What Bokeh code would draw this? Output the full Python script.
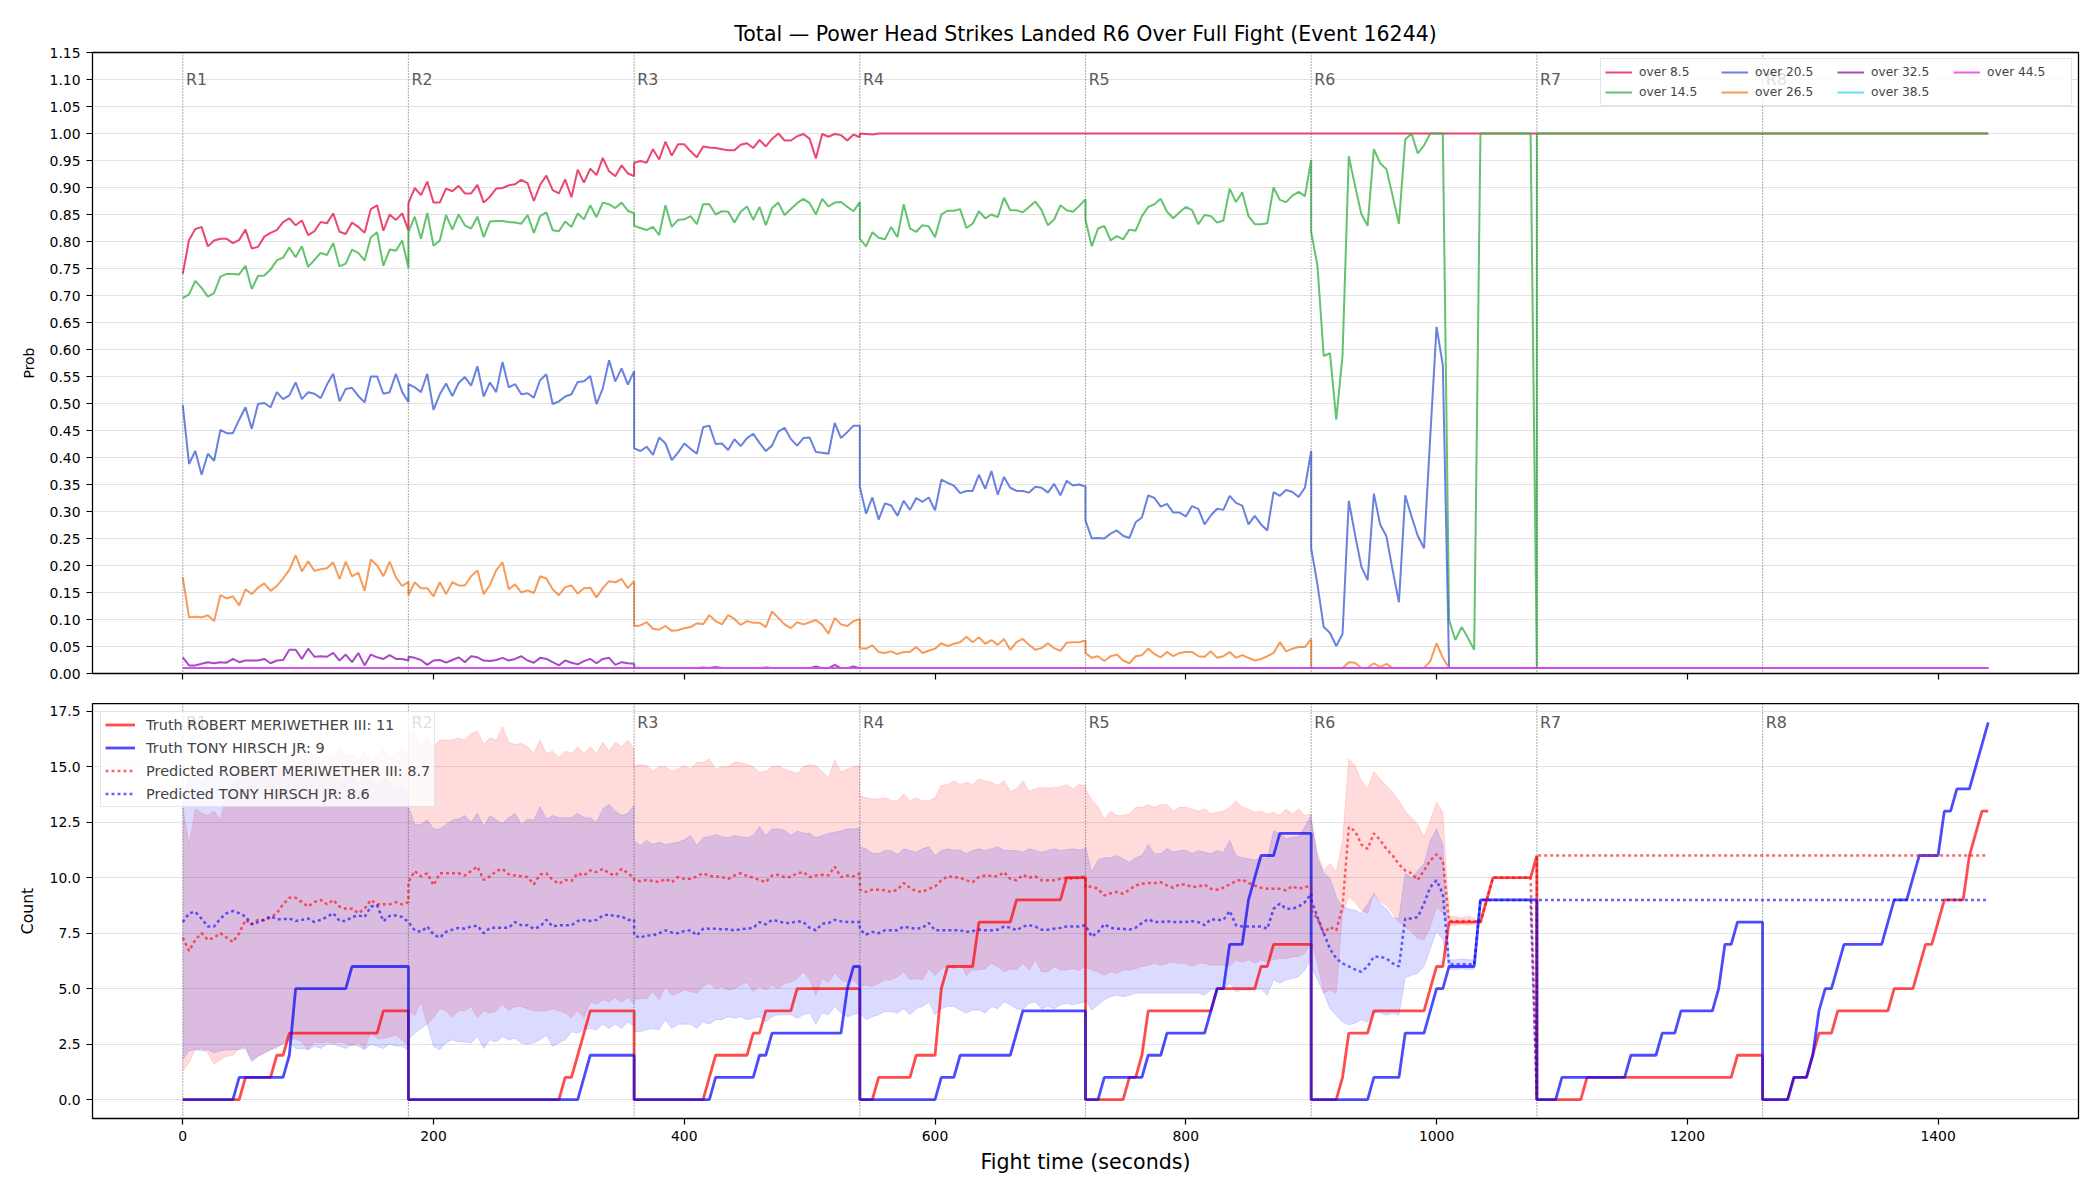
import numpy as np
from bokeh.plotting import figure
from bokeh.layouts import column
from bokeh.models import Range1d, FixedTicker, PrintfTickFormatter, Span, Label
from bokeh.embed import file_html
from bokeh.resources import INLINE

STEP = 5
ROUND_STARTS = [0, 180, 360, 540, 720, 900, 1080, 1260]
ROUND_NAMES = ["R1", "R2", "R3", "R4", "R5", "R6", "R7", "R8"]
X_TICKS = [0, 200, 400, 600, 800, 1000, 1200, 1400]
FONT = "DejaVu Sans"

# ---------------- top panel: P(R6 total over line), one list per round, every 5 s ----------------
OVER_8_5 = [
    [0.740, 0.803, 0.823, 0.827, 0.791, 0.802, 0.805, 0.805, 0.797, 0.803, 0.822, 0.787, 0.790, 0.809, 0.816, 0.821, 0.836, 0.843, 0.830, 0.839, 0.812, 0.819, 0.836, 0.834, 0.852, 0.818, 0.814, 0.835, 0.827, 0.816, 0.860, 0.867, 0.820, 0.850, 0.840, 0.852, 0.820],
    [0.871, 0.899, 0.886, 0.911, 0.872, 0.872, 0.898, 0.893, 0.903, 0.889, 0.889, 0.905, 0.872, 0.883, 0.898, 0.899, 0.904, 0.906, 0.914, 0.908, 0.875, 0.905, 0.922, 0.895, 0.889, 0.915, 0.882, 0.933, 0.909, 0.935, 0.923, 0.955, 0.930, 0.921, 0.941, 0.926, 0.921],
    [0.946, 0.949, 0.946, 0.971, 0.952, 0.985, 0.959, 0.980, 0.980, 0.967, 0.956, 0.976, 0.974, 0.973, 0.971, 0.969, 0.969, 0.979, 0.982, 0.973, 0.988, 0.976, 0.990, 1.000, 0.987, 0.987, 0.995, 0.999, 0.990, 0.954, 0.999, 0.994, 0.999, 0.997, 0.987, 0.998, 0.993],
    [1.0, 0.999, 0.998] + [1.0] * 34,
    [1.0] * 37,
    [1.0] * 37,
    [1.0] * 37,
    [1.0] * 37,
]
OVER_14_5 = [
    [0.695, 0.702, 0.727, 0.714, 0.698, 0.705, 0.735, 0.740, 0.740, 0.739, 0.755, 0.712, 0.736, 0.737, 0.748, 0.765, 0.770, 0.789, 0.771, 0.791, 0.753, 0.766, 0.779, 0.775, 0.797, 0.754, 0.759, 0.785, 0.779, 0.765, 0.808, 0.817, 0.755, 0.785, 0.783, 0.802, 0.751],
    [0.818, 0.846, 0.805, 0.853, 0.792, 0.802, 0.849, 0.822, 0.850, 0.830, 0.824, 0.846, 0.808, 0.837, 0.838, 0.838, 0.836, 0.835, 0.833, 0.849, 0.816, 0.847, 0.854, 0.821, 0.819, 0.837, 0.827, 0.852, 0.841, 0.867, 0.845, 0.872, 0.869, 0.862, 0.872, 0.857, 0.852],
    [0.829, 0.825, 0.821, 0.827, 0.812, 0.867, 0.827, 0.840, 0.841, 0.847, 0.832, 0.869, 0.869, 0.850, 0.856, 0.855, 0.835, 0.855, 0.865, 0.840, 0.864, 0.830, 0.862, 0.872, 0.849, 0.860, 0.871, 0.879, 0.871, 0.850, 0.879, 0.865, 0.872, 0.873, 0.864, 0.856, 0.873],
    [0.805, 0.791, 0.817, 0.807, 0.804, 0.827, 0.808, 0.869, 0.824, 0.818, 0.830, 0.828, 0.808, 0.850, 0.857, 0.857, 0.860, 0.825, 0.833, 0.856, 0.843, 0.850, 0.845, 0.881, 0.858, 0.858, 0.854, 0.864, 0.874, 0.858, 0.830, 0.841, 0.867, 0.858, 0.855, 0.866, 0.878],
    [0.840, 0.791, 0.824, 0.829, 0.802, 0.810, 0.804, 0.822, 0.820, 0.847, 0.864, 0.869, 0.879, 0.855, 0.843, 0.854, 0.864, 0.858, 0.832, 0.849, 0.847, 0.835, 0.839, 0.898, 0.873, 0.891, 0.847, 0.832, 0.832, 0.834, 0.900, 0.877, 0.873, 0.885, 0.892, 0.884, 0.951],
    [0.818, 0.755, 0.588, 0.593, 0.470, 0.589, 0.958, 0.903, 0.851, 0.829, 0.971, 0.945, 0.934, 0.884, 0.833, 0.989, 1.000, 0.963, 0.978, 1.000, 1.000, 1.000, 0.099, 0.062, 0.086, 0.066, 0.044, 1.000, 1.000, 1.000, 1.000, 1.000, 1.000, 1.000, 1.000, 1.000, 0.010],
    [1.0] * 37,
    [1.0] * 37,
]
OVER_20_5 = [
    [0.497, 0.388, 0.412, 0.368, 0.407, 0.394, 0.451, 0.445, 0.445, 0.470, 0.493, 0.453, 0.499, 0.501, 0.493, 0.521, 0.508, 0.515, 0.539, 0.508, 0.521, 0.518, 0.510, 0.535, 0.555, 0.504, 0.527, 0.529, 0.514, 0.502, 0.550, 0.550, 0.518, 0.521, 0.555, 0.521, 0.503],
    [0.536, 0.530, 0.521, 0.555, 0.488, 0.517, 0.537, 0.514, 0.538, 0.549, 0.533, 0.569, 0.513, 0.539, 0.521, 0.577, 0.530, 0.536, 0.517, 0.519, 0.511, 0.543, 0.554, 0.499, 0.504, 0.513, 0.517, 0.540, 0.541, 0.551, 0.499, 0.528, 0.580, 0.541, 0.565, 0.535, 0.560],
    [0.417, 0.412, 0.420, 0.405, 0.437, 0.426, 0.395, 0.409, 0.426, 0.416, 0.407, 0.456, 0.459, 0.425, 0.426, 0.414, 0.434, 0.421, 0.436, 0.444, 0.427, 0.412, 0.422, 0.448, 0.455, 0.434, 0.422, 0.436, 0.437, 0.410, 0.409, 0.407, 0.464, 0.436, 0.447, 0.459, 0.459],
    [0.346, 0.296, 0.326, 0.285, 0.315, 0.311, 0.292, 0.320, 0.303, 0.325, 0.318, 0.326, 0.302, 0.359, 0.353, 0.348, 0.334, 0.338, 0.338, 0.368, 0.342, 0.375, 0.331, 0.364, 0.344, 0.338, 0.338, 0.335, 0.346, 0.344, 0.335, 0.351, 0.330, 0.357, 0.348, 0.350, 0.346],
    [0.283, 0.250, 0.251, 0.250, 0.259, 0.265, 0.255, 0.251, 0.280, 0.289, 0.330, 0.325, 0.309, 0.314, 0.298, 0.298, 0.291, 0.310, 0.305, 0.276, 0.293, 0.305, 0.303, 0.329, 0.316, 0.311, 0.276, 0.292, 0.276, 0.265, 0.336, 0.329, 0.340, 0.336, 0.327, 0.344, 0.412],
    [0.232, 0.165, 0.086, 0.075, 0.051, 0.073, 0.320, 0.257, 0.198, 0.173, 0.333, 0.276, 0.254, 0.191, 0.132, 0.330, 0.291, 0.255, 0.232, 0.440, 0.642, 0.571] + [0.010] * 15,
    [0.010] * 37,
    [0.010] * 37,
]
OVER_26_5 = [
    [0.178, 0.104, 0.105, 0.104, 0.108, 0.097, 0.145, 0.139, 0.143, 0.126, 0.156, 0.147, 0.159, 0.167, 0.153, 0.162, 0.176, 0.192, 0.219, 0.189, 0.208, 0.190, 0.193, 0.195, 0.206, 0.175, 0.207, 0.180, 0.187, 0.153, 0.211, 0.200, 0.180, 0.207, 0.178, 0.162, 0.170],
    [0.145, 0.169, 0.158, 0.158, 0.143, 0.169, 0.147, 0.169, 0.163, 0.163, 0.180, 0.191, 0.147, 0.164, 0.191, 0.206, 0.156, 0.165, 0.150, 0.154, 0.149, 0.180, 0.176, 0.156, 0.145, 0.160, 0.163, 0.148, 0.158, 0.159, 0.141, 0.158, 0.171, 0.169, 0.175, 0.158, 0.171],
    [0.088, 0.089, 0.095, 0.083, 0.081, 0.088, 0.079, 0.080, 0.084, 0.086, 0.093, 0.091, 0.108, 0.097, 0.091, 0.108, 0.101, 0.090, 0.097, 0.094, 0.094, 0.086, 0.115, 0.103, 0.091, 0.084, 0.095, 0.091, 0.095, 0.099, 0.090, 0.074, 0.103, 0.091, 0.088, 0.097, 0.101],
    [0.047, 0.046, 0.052, 0.040, 0.038, 0.041, 0.036, 0.040, 0.040, 0.049, 0.038, 0.042, 0.046, 0.056, 0.051, 0.055, 0.058, 0.068, 0.058, 0.067, 0.055, 0.062, 0.053, 0.064, 0.044, 0.058, 0.064, 0.053, 0.044, 0.047, 0.056, 0.047, 0.042, 0.057, 0.058, 0.058, 0.061],
    [0.038, 0.029, 0.032, 0.023, 0.032, 0.035, 0.024, 0.019, 0.032, 0.034, 0.046, 0.036, 0.030, 0.040, 0.032, 0.038, 0.040, 0.040, 0.032, 0.031, 0.041, 0.029, 0.032, 0.040, 0.029, 0.034, 0.029, 0.024, 0.027, 0.032, 0.038, 0.058, 0.041, 0.046, 0.049, 0.049, 0.064],
    [0.010, 0.010, 0.010, 0.010, 0.010, 0.010, 0.021, 0.020, 0.010, 0.010, 0.019, 0.012, 0.018, 0.010, 0.010, 0.010, 0.010, 0.010, 0.010, 0.023, 0.056, 0.029] + [0.010] * 15,
    [0.010] * 37,
    [0.010] * 37,
]
OVER_32_5 = [
    [0.030, 0.015, 0.015, 0.018, 0.021, 0.019, 0.021, 0.020, 0.027, 0.021, 0.024, 0.024, 0.024, 0.027, 0.019, 0.024, 0.025, 0.044, 0.044, 0.027, 0.046, 0.031, 0.032, 0.031, 0.038, 0.024, 0.035, 0.021, 0.038, 0.015, 0.035, 0.030, 0.027, 0.034, 0.027, 0.027, 0.024],
    [0.031, 0.029, 0.025, 0.016, 0.024, 0.025, 0.020, 0.025, 0.030, 0.021, 0.032, 0.030, 0.024, 0.023, 0.025, 0.029, 0.024, 0.027, 0.032, 0.024, 0.020, 0.029, 0.027, 0.021, 0.015, 0.024, 0.020, 0.017, 0.023, 0.027, 0.019, 0.027, 0.029, 0.016, 0.021, 0.019, 0.018],
    [0.011, 0.010, 0.010, 0.010, 0.010, 0.010, 0.010, 0.010, 0.010, 0.010, 0.010, 0.011, 0.010, 0.012, 0.010, 0.010, 0.010, 0.010, 0.010, 0.010, 0.010, 0.011, 0.010, 0.010, 0.010, 0.010, 0.010, 0.010, 0.010, 0.013, 0.010, 0.010, 0.016, 0.010, 0.010, 0.013, 0.010],
    [0.010] * 37,
    [0.010] * 37,
    [0.010] * 37,
    [0.010] * 37,
    [0.010] * 37,
]
OVER_38_5 = [[0.010] * 37 for _ in ROUND_STARTS]
OVER_44_5 = [[0.010] * 37 for _ in ROUND_STARTS]

TOP_SERIES = [
    ("over 8.5", OVER_8_5, "#e6194b"),
    ("over 14.5", OVER_14_5, "#3cb44b"),
    ("over 20.5", OVER_20_5, "#4363d8"),
    ("over 26.5", OVER_26_5, "#f58231"),
    ("over 32.5", OVER_32_5, "#911eb4"),
    ("over 38.5", OVER_38_5, "#42d4f4"),
    ("over 44.5", OVER_44_5, "#f032e6"),
]

# ---------------- bottom panel: per-round counts, every 5 s ----------------
TRUTH_RED = [
    [0] * 10 + [1] * 5 + [2, 2] + [3] * 15 + [4] * 5,
    [0] * 25 + [1, 1, 2, 3] + [4] * 8,
    [0] * 12 + [1] + [2] * 6 + [3, 3] + [4] * 5 + [5] * 11,
    [0, 0, 0] + [1] * 6 + [2] * 4 + [5] + [6] * 5 + [8] * 6 + [9] * 8 + [10] * 4,
    [0] * 7 + [1, 1, 2] + [4] * 11 + [5] * 7 + [6, 6] + [7] * 7,
    [0] * 5 + [1] + [3] * 4 + [4] * 9 + [5] + [6, 6] + [8] * 6 + [9] + [10] * 7 + [11],
    [0] * 8 + [1] * 24 + [2] * 5,
    [0] * 5 + [1, 1, 1] + [2] + [3, 3, 3] + [4] * 9 + [5] * 4 + [6] + [7, 7] + [8] + [9] * 4 + [11] + [12] + [13, 13],
]
TRUTH_BLUE = [
    [0] * 9 + [1] * 8 + [2] + [5] * 9 + [6] * 10,
    [0] * 28 + [1] + [2] * 8,
    [0] * 13 + [1] * 7 + [2, 2] + [3] * 12 + [5] + [6, 6],
    [0] * 13 + [1] * 3 + [2] * 9 + [3] + [4] * 11,
    [0] * 3 + [1] * 7 + [2] * 3 + [3] * 7 + [4] + [5, 5] + [7] * 3 + [9] + [10] + [11] * 3 + [12] * 6,
    [0] * 10 + [1] * 5 + [3] * 4 + [4] + [5, 5] + [6] * 5 + [9] * 10,
    [0] * 4 + [1] * 11 + [2] * 5 + [3] * 3 + [4] * 6 + [5] + [7, 7] + [8] * 5,
    [0] * 5 + [1] * 3 + [2] + [4] + [5, 5] + [6] + [7] * 7 + [8] + [9] * 3 + [10] + [11] * 4 + [13, 13] + [14] * 3 + [15] + [16] + [17],
]
PRED_RED = [
    [7.3, 6.7, 7.2, 7.5, 7.2, 7.3, 7.5, 7.3, 7.1, 7.5, 8.1, 7.9, 8.1, 8.1, 8.2, 8.4, 8.8, 9.1, 9.1, 8.9, 8.7, 8.9, 9.0, 8.8, 9.0, 8.7, 8.6, 8.6, 8.4, 8.6, 9.0, 8.8, 8.8, 8.8, 8.9, 8.8, 8.9],
    [9.8, 10.3, 10.06, 10.2, 9.66, 10.2, 10.2, 10.2, 10.2, 10.1, 10.3, 10.5, 9.9, 10.06, 10.3, 10.4, 10.15, 10.1, 10.07, 10.03, 9.7, 10.15, 10.2, 9.9, 9.73, 9.9, 9.85, 10.2, 10.1, 10.33, 10.25, 10.4, 10.2, 10.1, 10.4, 10.2, 10.0],
    [9.9, 9.84, 9.9, 9.85, 9.8, 9.95, 9.8, 10.03, 9.95, 9.95, 10.06, 10.2, 10.08, 10.06, 10.03, 9.95, 10.1, 10.2, 10.08, 10.0, 9.9, 9.8, 10.1, 10.13, 10.03, 10.03, 10.2, 10.25, 10.03, 10.1, 10.13, 10.1, 10.5, 10.03, 10.1, 10.06, 10.2],
    [9.46, 9.36, 9.46, 9.46, 9.43, 9.36, 9.46, 9.76, 9.54, 9.39, 9.36, 9.5, 9.6, 9.88, 10.06, 10.03, 10.0, 9.88, 9.8, 10.03, 10.1, 10.08, 10.06, 10.25, 9.95, 9.88, 10.13, 10.0, 10.06, 9.88, 9.88, 9.88, 9.95, 10.0, 9.95, 10.0, 10.06],
    [9.58, 9.6, 9.5, 9.2, 9.3, 9.36, 9.28, 9.46, 9.65, 9.73, 9.76, 9.76, 9.8, 9.65, 9.55, 9.7, 9.69, 9.58, 9.6, 9.69, 9.5, 9.46, 9.55, 9.7, 9.85, 9.92, 9.76, 9.65, 9.55, 9.5, 9.5, 9.5, 9.43, 9.62, 9.5, 9.58, 9.62],
    [8.53, 8.16, 7.5, 7.78, 7.63, 8.68, 12.28, 12.1, 11.5, 11.3, 12.0, 11.7, 11.3, 11.0, 10.6, 10.33, 10.2, 9.9, 10.33, 10.78, 11.05, 10.78, 8.05, 8.05, 8.05, 8.05, 8.05, 8, 9, 10, 10, 10, 10, 10, 10, 10, 0],
    [11] * 37,
    [11] * 37,
]
PRED_BLUE = [
    [8.0, 8.4, 8.46, 8.16, 7.8, 7.8, 8.16, 8.4, 8.5, 8.4, 8.26, 7.9, 8.0, 8.1, 8.26, 8.13, 8.13, 8.16, 8.05, 8.1, 8.16, 8.0, 8.1, 8.23, 8.4, 8.05, 8.05, 8.23, 8.3, 8.23, 8.7, 8.76, 8.04, 8.28, 8.3, 8.23, 8.0],
    [8.0, 7.63, 7.56, 7.8, 7.44, 7.3, 7.56, 7.66, 7.74, 7.7, 7.8, 7.84, 7.5, 7.74, 7.74, 7.74, 7.74, 8.0, 7.86, 7.86, 7.7, 7.8, 8.1, 7.8, 7.86, 7.86, 7.86, 8.05, 8.1, 8.05, 8.1, 8.3, 8.34, 8.26, 8.26, 8.1, 8.1],
    [7.4, 7.3, 7.4, 7.4, 7.5, 7.63, 7.53, 7.5, 7.6, 7.63, 7.4, 7.7, 7.7, 7.7, 7.68, 7.68, 7.63, 7.68, 7.7, 7.74, 8.0, 7.9, 8.1, 8.04, 7.96, 7.96, 8.04, 8.0, 7.74, 7.63, 7.93, 7.96, 8.1, 8.04, 8.0, 8.0, 8.0],
    [7.66, 7.44, 7.56, 7.5, 7.63, 7.63, 7.63, 7.8, 7.74, 7.7, 7.74, 7.96, 7.63, 7.63, 7.63, 7.63, 7.63, 7.56, 7.6, 7.66, 7.63, 7.63, 7.66, 7.8, 7.75, 7.63, 7.8, 7.86, 7.8, 7.66, 7.66, 7.7, 7.74, 7.8, 7.8, 7.8, 7.86],
    [7.86, 7.34, 7.56, 7.9, 7.74, 7.7, 7.7, 7.66, 7.75, 7.96, 8.13, 8.0, 8.0, 8.04, 8.0, 8.0, 8.0, 8.04, 8.0, 7.86, 8.13, 8.1, 8.1, 8.5, 7.86, 7.8, 7.8, 7.8, 7.8, 7.7, 8.6, 8.83, 8.6, 8.6, 8.7, 8.9, 9.28],
    [9.0, 8.23, 7.5, 6.8, 6.36, 6.14, 6.0, 5.87, 5.76, 6.0, 6.44, 6.44, 6.36, 6.14, 6.0, 8.16, 8.16, 8.23, 8.83, 9.58, 9.88, 9.28, 6.1, 6.1, 6.1, 6.1, 6.1, 9, 9, 9, 9, 9, 9, 9, 9, 9, 0],
    [9] * 37,
    [9] * 37,
]
# prediction intervals (rounds R1..R6; they close up partway through R6)
RED_HI = [
    [13.2, 11.5, 13.1, 12.9, 12.8, 13.0, 12.6, 13.8, 14.2, 14.5, 14.8, 15.0, 14.7, 15.2, 15.5, 15.3, 15.0, 15.6, 15.8, 15.4, 15.7, 15.5, 15.2, 15.6, 15.4, 15.8, 15.5, 15.6, 15.3, 15.7, 15.2, 15.5, 15.8, 15.4, 15.6, 15.9, 15.5],
    [16.5, 16.5, 16.0, 16.4, 15.9, 16.2, 16.2, 16.2, 16.3, 16.2, 16.5, 16.6, 16.0, 16.3, 16.2, 16.8, 16.1, 16.0, 16.05, 15.9, 15.6, 16.2, 15.6, 15.7, 15.4, 15.7, 15.6, 15.9, 15.6, 15.9, 15.6, 16.1, 15.7, 16.1, 15.9, 16.2, 15.8],
    [15.05, 15.1, 15.05, 14.8, 15.0, 15.0, 14.8, 14.9, 15.05, 14.9, 15.2, 15.2, 15.35, 14.9, 15.0, 15.0, 15.2, 15.2, 15.1, 15.0, 14.75, 14.8, 15.0, 15.05, 14.9, 14.8, 14.7, 15.0, 15.1, 15.05, 14.8, 14.5, 15.3, 14.75, 14.9, 15.0, 15.05],
    [13.7, 13.6, 13.55, 13.55, 13.6, 13.47, 13.47, 13.77, 13.47, 13.6, 13.47, 13.47, 13.6, 14.15, 14.2, 14.37, 14.2, 14.3, 14.2, 14.45, 14.37, 14.3, 14.15, 14.37, 13.9, 14.0, 14.37, 13.9, 14.0, 14.07, 14.04, 14.07, 14.1, 14.2, 14.0, 14.2, 14.15],
    [14.0, 13.5, 13.2, 12.65, 13.0, 12.8, 12.8, 12.87, 13.17, 13.17, 13.3, 13.17, 13.3, 13.3, 13.0, 13.17, 13.17, 13.1, 13.0, 13.1, 12.87, 12.95, 13.0, 13.17, 13.47, 13.17, 13.1, 12.95, 13.0, 12.87, 12.95, 12.8, 13.1, 12.87, 13.1, 12.8, 12.87],
    [12.6, 11.08, 10.33, 10.63, 10.25, 11.68, 15.35, 15.05, 14.37, 14.0, 14.8, 14.45, 14.15, 13.85, 13.47, 13.0, 12.7, 12.4, 11.83, 12.6, 13.4, 12.95, 8.25, 8.25, 8.2, 8.25, 8.2],
]
RED_LO = [
    [1.3, 1.65, 2.25, 2.3, 2.1, 1.6, 1.8, 1.95, 2.0, 2.3, 2.4, 1.8, 1.95, 2.1, 2.25, 2.3, 2.55, 2.7, 2.75, 2.6, 2.25, 2.6, 2.55, 2.6, 2.55, 2.6, 2.55, 2.4, 2.6, 2.3, 3.05, 2.75, 2.75, 2.85, 2.9, 2.7, 2.4],
    [4.0, 3.8, 4.4, 3.4, 3.7, 4.1, 4.0, 3.7, 4.0, 4.0, 4.2, 3.7, 4.0, 3.9, 4.0, 4.3, 4.0, 4.2, 4.2, 4.1, 4.0, 4.0, 4.0, 4.1, 4.0, 3.9, 3.7, 4.0, 3.7, 4.4, 4.3, 4.5, 4.4, 4.6, 4.4, 4.6, 4.3],
    [4.5, 4.56, 4.56, 4.87, 4.5, 5.1, 4.7, 4.8, 4.94, 4.87, 4.8, 5.1, 5.24, 5.0, 5.1, 4.94, 5.0, 5.16, 5.3, 4.87, 5.1, 4.94, 5.16, 5.0, 5.24, 5.3, 5.46, 5.76, 5.4, 4.7, 5.46, 5.3, 5.7, 5.4, 5.3, 5.4, 5.1],
    [5.1, 5.16, 5.1, 5.24, 5.4, 5.4, 5.54, 5.76, 5.4, 5.46, 5.4, 5.9, 5.6, 5.9, 6.0, 5.9, 6.14, 5.6, 5.84, 5.84, 5.9, 6.14, 6.0, 5.76, 5.9, 5.84, 6.14, 5.84, 6.3, 5.76, 5.76, 6.0, 5.84, 5.84, 5.9, 5.84, 6.0],
    [6.0, 5.84, 5.76, 5.6, 5.76, 5.7, 5.84, 5.84, 5.9, 6.0, 6.06, 6.14, 6.06, 6.14, 6.2, 6.14, 6.14, 6.0, 6.14, 6.14, 6.06, 6.06, 6.06, 6.0, 6.3, 6.2, 6.3, 6.14, 6.3, 6.2, 6.3, 6.36, 6.36, 6.44, 6.44, 6.6, 7.1],
    [7.2, 6.14, 4.8, 4.94, 4.8, 8.4, 9.13, 8.9, 8.53, 8.4, 9.28, 8.9, 8.76, 8.4, 8.0, 7.78, 7.56, 7.26, 7.2, 7.78, 8.68, 8.4, 7.85, 7.85, 7.9, 7.85, 7.9],
]
BLUE_HI = [
    [13.5, 14.6, 14.8, 14.3, 14.8, 14.5, 14.9, 14.6, 14.4, 14.8, 14.7, 14.5, 14.9, 15.0, 14.7, 14.6, 14.9, 14.8, 14.5, 14.7, 14.9, 14.6, 14.4, 14.8, 14.5, 14.3, 14.6, 14.5, 14.2, 14.6, 14.4, 14.1, 14.5, 14.3, 14.0, 14.2, 13.8],
    [13.2, 12.4, 12.4, 12.6, 12.2, 12.2, 12.4, 12.6, 12.65, 12.8, 12.5, 12.9, 12.3, 12.8, 12.6, 12.45, 12.7, 12.9, 12.4, 12.65, 12.6, 13.2, 12.65, 12.8, 12.7, 12.7, 12.7, 12.9, 12.7, 12.7, 12.5, 13.1, 13.3, 13.0, 12.8, 12.9, 13.25],
    [11.68, 11.45, 11.68, 11.5, 11.6, 11.5, 11.55, 11.6, 11.7, 11.9, 11.45, 11.8, 11.85, 11.95, 11.85, 11.8, 11.9, 11.85, 11.8, 11.9, 12.3, 11.9, 12.2, 12.2, 12.15, 11.9, 12.1, 12.0, 12.0, 11.8, 11.9, 12.0, 12.05, 12.1, 12.2, 12.2, 12.25],
    [11.4, 11.3, 11.1, 11.08, 11.23, 11.23, 11.05, 11.3, 11.23, 11.15, 11.3, 11.4, 11.0, 11.23, 11.3, 11.23, 11.26, 11.08, 11.23, 11.3, 11.23, 11.3, 11.4, 11.23, 11.23, 11.23, 11.15, 11.3, 11.23, 11.15, 11.23, 11.3, 11.23, 11.26, 11.3, 11.26, 11.3],
    [11.4, 10.25, 10.8, 10.9, 10.9, 11.0, 10.85, 10.7, 10.9, 11.0, 11.5, 11.08, 11.08, 11.3, 11.15, 11.23, 11.23, 11.08, 11.23, 11.15, 11.08, 11.23, 11.15, 11.68, 11.0, 10.9, 10.85, 10.8, 10.9, 10.85, 12.1, 12.0, 11.75, 11.83, 11.83, 12.3, 12.8],
    [12.7, 10.9, 10.2, 10.0, 9.13, 8.68, 8.6, 8.53, 8.4, 8.83, 9.28, 8.83, 8.6, 8.2, 8.16, 10.2, 10.0, 10.33, 10.63, 11.68, 12.2, 11.5, 6.3, 6.3, 6.35, 6.3, 6.3],
]
BLUE_LO = [
    [1.8, 2.2, 2.25, 2.2, 2.25, 2.1, 2.2, 2.25, 2.25, 2.25, 2.3, 1.7, 1.95, 2.1, 2.25, 2.4, 2.5, 2.6, 2.3, 2.3, 2.25, 2.4, 2.3, 2.5, 2.5, 2.4, 2.3, 2.5, 2.4, 2.25, 2.5, 2.4, 2.3, 2.5, 2.4, 2.4, 2.2],
    [2.7, 3.0, 3.2, 3.4, 2.4, 2.25, 2.55, 2.7, 2.6, 2.6, 2.55, 2.85, 2.3, 2.7, 2.6, 2.85, 2.7, 2.75, 2.55, 2.5, 2.55, 2.7, 2.9, 2.4, 2.55, 2.7, 3.05, 3.0, 3.15, 3.2, 3.15, 3.4, 3.2, 3.4, 3.2, 3.5, 3.3],
    [3.07, 3.07, 3.15, 3.2, 3.15, 3.6, 3.2, 3.4, 3.4, 3.4, 3.2, 3.5, 3.4, 3.6, 3.6, 3.74, 3.67, 3.74, 3.6, 3.67, 3.74, 3.5, 3.74, 3.82, 3.82, 3.82, 3.67, 3.82, 3.9, 3.4, 3.9, 3.82, 4.2, 3.9, 3.74, 3.82, 3.9],
    [3.9, 3.6, 3.74, 3.82, 3.97, 3.97, 3.9, 4.1, 3.82, 4.1, 4.2, 4.4, 3.82, 4.1, 4.2, 4.2, 4.04, 3.9, 4.04, 4.04, 3.9, 4.2, 4.1, 4.4, 4.27, 4.1, 4.04, 4.34, 4.4, 4.1, 4.2, 4.1, 4.27, 4.34, 4.27, 4.34, 4.4],
    [4.5, 4.04, 4.27, 4.5, 4.64, 4.7, 4.64, 4.7, 4.8, 4.8, 4.8, 4.8, 4.8, 4.8, 4.8, 4.8, 4.8, 4.8, 4.8, 4.7, 4.94, 5.0, 4.94, 5.24, 4.87, 4.94, 4.94, 4.94, 5.0, 4.7, 5.4, 5.24, 5.4, 5.46, 5.54, 5.84, 6.36],
    [6.0, 5.4, 4.8, 4.1, 3.8, 3.5, 3.37, 3.44, 3.6, 3.5, 3.9, 3.9, 3.8, 3.9, 3.8, 5.5, 5.6, 5.7, 6.0, 6.8, 7.6, 7.2, 5.9, 5.85, 5.9, 5.85, 5.9],
]

RED_NAME = "ROBERT MERIWETHER III"
BLUE_NAME = "TONY HIRSCH JR"
FINAL_RED, FINAL_BLUE = 11, 9
PRED_FINAL_RED, PRED_FINAL_BLUE = 8.7, 8.6


def stitch(rounds):
    """Join per-round samples into one series on the fight clock."""
    xs, ys = [], []
    for start, vals in zip(ROUND_STARTS, rounds):
        for i, v in enumerate(vals):
            xs.append(start + STEP * i)
            ys.append(v)
    return xs, ys


def style_axes(p, ylabel, label_size, show_x_labels):
    p.outline_line_color = "black"
    p.outline_line_width = 1.3
    p.background_fill_color = "white"
    p.border_fill_color = "white"
    for ax in (p.xaxis[0], p.yaxis[0]):
        ax.axis_line_color = None
        ax.major_tick_line_color = "black"
        ax.major_tick_line_width = 1.2
        ax.major_tick_out = 6
        ax.major_tick_in = 0
        ax.minor_tick_line_color = None
        ax.major_label_text_font = FONT
        ax.major_label_text_font_size = "13.9px"
        ax.major_label_text_color = "black"
        ax.major_label_standoff = 6
        ax.axis_label_text_font = FONT
        ax.axis_label_text_font_style = "normal"
        ax.axis_label_text_color = "black"
    p.yaxis[0].axis_label = ylabel
    p.yaxis[0].axis_label_text_font_size = label_size
    p.yaxis[0].axis_label_standoff = 10
    p.xaxis[0].ticker = FixedTicker(ticks=X_TICKS)
    if not show_x_labels:
        # shared time axis: tick marks only on the upper panel
        p.xaxis[0].major_label_overrides = {t: "" for t in X_TICKS}
    p.xgrid.grid_line_color = None
    p.ygrid.grid_line_color = "#b0b0b0"
    p.ygrid.grid_line_alpha = 0.35
    p.ygrid.grid_line_width = 1


def add_rounds(p, label_y):
    for start, name in zip(ROUND_STARTS, ROUND_NAMES):
        p.add_layout(Span(location=start, dimension="height", line_color="#444444",
                          line_dash="1 2", line_width=1.2, line_alpha=0.75))
        p.add_layout(Label(x=start + 2.5, y=label_y, text=name, text_font=FONT,
                           text_font_size="15.8px", text_color="#5a5a5a",
                           text_baseline="middle", text_align="left"))


x_range = Range1d(-72, 1512)

# ---------------- top figure ----------------
top = figure(width=2100, height=703, x_range=x_range, y_range=Range1d(0, 1.15),
             output_backend="svg", toolbar_location=None,
             min_border_left=92, min_border_right=22, min_border_top=52, min_border_bottom=30)
top.title.text = "Total \u2014 Power Head Strikes Landed R6 Over Full Fight (Event 16244)"
top.title.align = "center"
top.title.text_font = FONT
top.title.text_font_size = "20.5px"
top.title.text_font_style = "normal"
top.title.text_color = "black"
top.title.standoff = 13
style_axes(top, "Prob", "13.9px", show_x_labels=False)
top_ticks = [round(0.05 * i, 2) for i in range(24)]
top.yaxis[0].ticker = FixedTicker(ticks=top_ticks)
top.yaxis[0].formatter = PrintfTickFormatter(format="%.2f")
top.ygrid.ticker = FixedTicker(ticks=top_ticks)
add_rounds(top, 1.10)

for name, rounds, color in TOP_SERIES:
    xs, ys = stitch(rounds)
    top.line(xs, ys, line_color=color, line_alpha=0.8, line_width=2, legend_label=name)

leg = top.legend[0]
leg.location = "top_right"
leg.orientation = "vertical"
leg.nrows = 2
leg.margin = 6
leg.padding = 4
leg.spacing = 2
leg.glyph_width = 27
leg.glyph_height = 18
leg.label_height = 18
leg.label_width = 80
leg.label_standoff = 7
leg.label_text_font = FONT
leg.label_text_font_size = "12.2px"
leg.border_line_color = "#cccccc"
leg.border_line_width = 1.3
leg.background_fill_alpha = 0.8

# ---------------- bottom figure ----------------
bot = figure(width=2100, height=497, x_range=x_range, y_range=Range1d(-0.85, 17.85),
             output_backend="svg", toolbar_location=None,
             min_border_left=92, min_border_right=22, min_border_top=0, min_border_bottom=82)
style_axes(bot, "Count", "15.6px", show_x_labels=True)
bot_ticks = [0, 2.5, 5, 7.5, 10, 12.5, 15, 17.5]
bot.yaxis[0].ticker = FixedTicker(ticks=bot_ticks)
bot.yaxis[0].formatter = PrintfTickFormatter(format="%.1f")
bot.ygrid.ticker = FixedTicker(ticks=bot_ticks)
bot.xaxis[0].axis_label = "Fight time (seconds)"
bot.xaxis[0].axis_label_text_font_size = "20.6px"
bot.xaxis[0].axis_label_standoff = 6

for hi_rounds, lo_rounds, color in ((RED_HI, RED_LO, "red"), (BLUE_HI, BLUE_LO, "blue")):
    bx, bhi = stitch(hi_rounds)
    _, blo = stitch(lo_rounds)
    bot.varea(x=bx, y1=blo, y2=bhi, fill_color=color, fill_alpha=0.14)
    bot.line(bx, bhi, line_color=color, line_alpha=0.12, line_width=1)
    bot.line(bx, blo, line_color=color, line_alpha=0.12, line_width=1)

add_rounds(bot, 17.0)

tx, ty = stitch(TRUTH_RED)
bot.line(tx, ty, line_color="red", line_alpha=0.7, line_width=2.8,
         legend_label=f"Truth {RED_NAME}: {FINAL_RED}")
tx, ty = stitch(TRUTH_BLUE)
bot.line(tx, ty, line_color="blue", line_alpha=0.7, line_width=2.8,
         legend_label=f"Truth {BLUE_NAME}: {FINAL_BLUE}")
px_, py_ = stitch(PRED_RED)
bot.line(px_, py_, line_color="red", line_alpha=0.6, line_width=2.5, line_dash="3 3",
         legend_label=f"Predicted {RED_NAME}: {PRED_FINAL_RED}")
px_, py_ = stitch(PRED_BLUE)
bot.line(px_, py_, line_color="blue", line_alpha=0.6, line_width=2.5, line_dash="3 3",
         legend_label=f"Predicted {BLUE_NAME}: {PRED_FINAL_BLUE}")

bl = bot.legend[0]
bl.location = "top_left"
bl.margin = 8
bl.padding = 4
bl.spacing = 6
bl.glyph_width = 30
bl.glyph_height = 17
bl.label_height = 17
bl.label_standoff = 11
bl.label_text_font = FONT
bl.label_text_font_size = "14.5px"
bl.border_line_color = "#cccccc"
bl.border_line_width = 1.3
bl.background_fill_alpha = 0.8

layout = column(top, bot)
open("out.html", "w").write(file_html(layout, INLINE))
